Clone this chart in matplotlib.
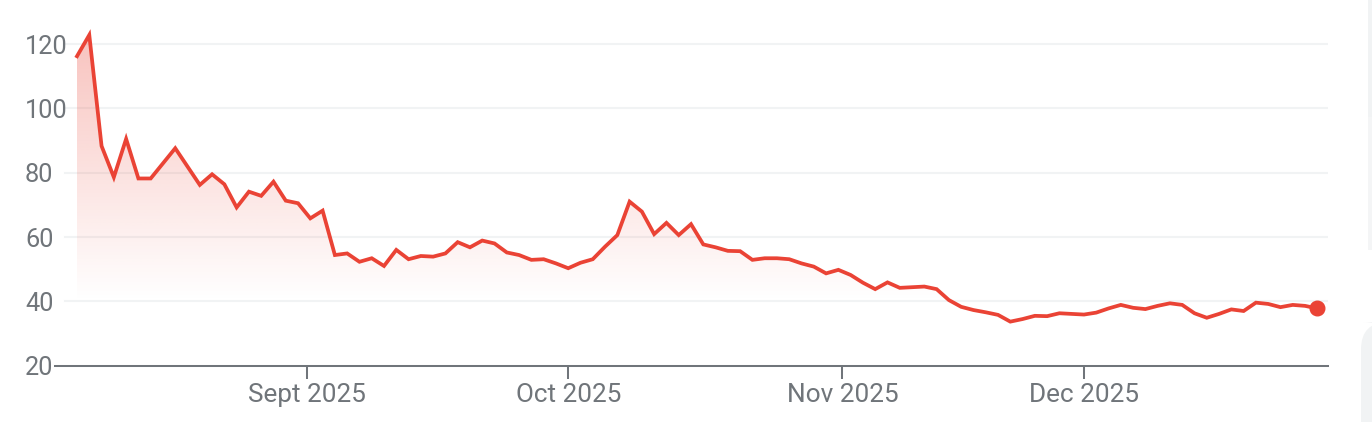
import numpy as np
import pandas as pd
import matplotlib
matplotlib.use("Agg")
import matplotlib.pyplot as plt
from matplotlib.patches import Polygon, FancyBboxPatch, Rectangle

# ---- data (one value per US trading day, Aug 5 - Dec 29, 2025) ----
start_date = "2025-08-05"
end_date = "2025-12-29"
market_holidays = ["2025-09-01", "2025-11-27", "2025-12-25"]
prices = [
    116.2, 122.8, 88.3, 78.6, 90.5, 78.2, 78.2, 82.9, 87.6, 81.9,
    76.2, 79.5, 76.4, 69.2, 74.1, 72.8, 77.2, 71.3, 70.5, 65.8,
    68.2, 54.4, 54.9, 52.3, 53.4, 51.0, 56.0, 53.1, 54.1, 53.9,
    54.9, 58.4, 56.8, 58.9, 58.0, 55.2, 54.4, 52.9, 53.1, 51.8,
    50.3, 52.0, 53.1, 57.0, 60.6, 71.0, 67.9, 60.9, 64.4, 60.6,
    64.0, 57.7, 56.8, 55.7, 55.6, 52.9, 53.4, 53.4, 53.1, 51.8,
    50.8, 48.7, 49.8, 48.2, 45.8, 43.8, 45.9, 44.2, 44.4, 44.6,
    43.8, 40.4, 38.3, 37.3, 36.6, 35.8, 33.7, 34.5, 35.5, 35.4,
    36.3, 36.1, 35.9, 36.5, 37.8, 38.9, 38.0, 37.6, 38.6, 39.4,
    38.9, 36.3, 34.9, 36.1, 37.5, 37.0, 39.6, 39.2, 38.2, 38.9,
    38.6, 37.8,
]
month_ticks = ["2025-09-01", "2025-10-01", "2025-11-01", "2025-12-01"]
month_labels = ["Sept 2025", "Oct 2025", "Nov 2025", "Dec 2025"]
y_ticks = [20, 40, 60, 80, 100, 120]

# ---- styling ----
RED = "#EA4335"
GRAY = "#70757a"
GRID = "#f1f3f4"
plt.rcParams["font.family"] = ["Roboto", "DejaVu Sans"]

dates = pd.bdate_range(start_date, end_date, freq="C", holidays=market_holidays)
idx = np.arange(len(dates))
y = np.array(prices)

W, H = 1372, 422
fig = plt.figure(figsize=(W / 100, H / 100), dpi=100)
ax_left, ax_right = 55, 1328
y_bottom_px, y_top_px = 365.7, 24.7
ax = fig.add_axes([ax_left / W, (H - y_bottom_px) / H,
                   (ax_right - ax_left) / W, (y_bottom_px - y_top_px) / H])

ymin, ymax = 20, 126
pxu = 12.28
xlim = (-(77 - ax_left) / pxu, (len(dates) - 1) + (ax_right - 1317.3) / pxu)

# gridlines
for v in y_ticks[1:]:
    ax.axhline(v, xmin=10 / (ax_right - ax_left), xmax=1, color=GRID, lw=1.5, zorder=0)

# gradient fill under the line
g_top, g_bot = 123.0, 40.0
ny = 256
vals = np.linspace(ymin, g_top, ny)
alpha = np.clip((vals - g_bot) / (g_top - g_bot), 0, 1) * 0.32
rgba = np.zeros((ny, 2, 4))
rgba[..., 0] = 234 / 255
rgba[..., 1] = 67 / 255
rgba[..., 2] = 53 / 255
rgba[..., 3] = alpha[:, None]
im = ax.imshow(rgba, origin="lower", aspect="auto",
               extent=[idx[0], idx[-1], ymin, g_top], zorder=1, interpolation="bilinear")
poly_xy = np.vstack([np.column_stack([idx, y]), [[idx[-1], ymin], [idx[0], ymin]]])
poly = Polygon(poly_xy, closed=True, facecolor="none", edgecolor="none")
ax.add_patch(poly)
im.set_clip_path(poly)
ax.set_xlim(*xlim)
ax.set_ylim(ymin, ymax)

# line and end dot
ax.plot(idx, y, color=RED, lw=2.7, solid_joinstyle="miter", zorder=3)
ax.plot(idx[-1:], y[-1:], "o", color=RED, ms=10.5, zorder=4, clip_on=False)

# spines
for s in ["top", "right", "left"]:
    ax.spines[s].set_visible(False)
ax.spines["bottom"].set_color(GRAY)
ax.spines["bottom"].set_linewidth(1.45)

# y ticks (left aligned labels)
ax.set_yticks(y_ticks)
ax.set_yticklabels([str(v) for v in y_ticks])
ax.tick_params(axis="y", length=0, pad=(ax_left - 25) * 0.72, labelsize=18.3, labelcolor=GRAY)
for lbl in ax.get_yticklabels():
    lbl.set_horizontalalignment("left")

# x ticks at month starts, interpolated in calendar time between trading days
dnum = dates.values.astype("datetime64[D]").astype(float)
tnum = pd.to_datetime(month_ticks).values.astype("datetime64[D]").astype(float)
tick_pos = np.interp(tnum, dnum, idx)
ax.set_xticks(tick_pos)
ax.set_xticklabels(month_labels)
ax.tick_params(axis="x", length=9.6, width=1.45, color=GRAY, pad=2.6,
               labelsize=18.8, labelcolor=GRAY)

# right-edge page UI fragments
fig.patches.append(Rectangle((1368 / W, (H - 117) / H), 4 / W, 117 / H,
                             transform=fig.transFigure, facecolor="#f1f3f4", edgecolor="none"))
fig.patches.append(Rectangle((1368 / W, (H - 250) / H), 4 / W, 133 / H,
                             transform=fig.transFigure, facecolor="#f4f5f6", edgecolor="none"))
fig.patches.append(FancyBboxPatch((1361 / W, -0.1), 30 / W, (0.1 + (H - 322) / H),
                                  boxstyle="round,pad=0,rounding_size=0.02",
                                  transform=fig.transFigure, facecolor="#f1f3f4",
                                  edgecolor="none", mutation_aspect=W / H))

fig.savefig("out.png", dpi=100, facecolor="white")
